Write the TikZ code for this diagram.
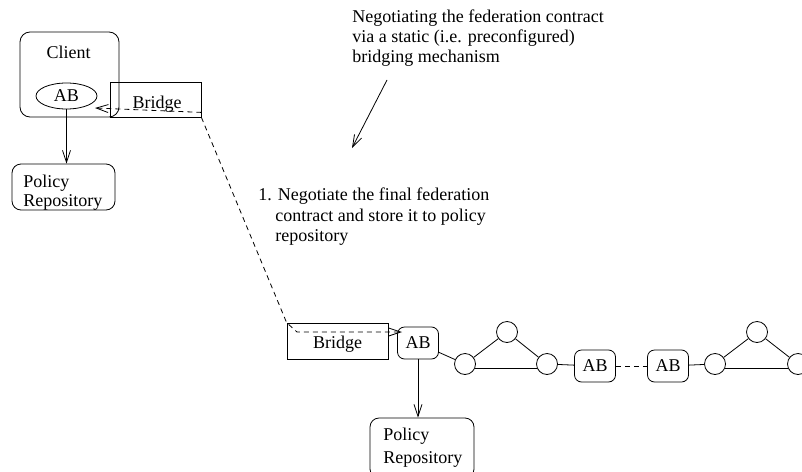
\documentclass[tikz,border=0pt]{standalone}
\usepackage{fontspec}
\setmainfont{Liberation Serif}
\usetikzlibrary{arrows.meta,shapes.geometric}
\begin{document}
\begin{tikzpicture}[x=1pt,y=-1pt,
  every node/.style={font=\fontsize{18}{20}\selectfont},
  every path/.style={line width=0.8pt},
  box/.style={draw, rectangle, inner sep=0pt},
  rbox/.style={box, rounded corners=9pt},
  abbox/.style={box, rounded corners=7pt, minimum width=41pt, minimum height=32pt},
  hub/.style={draw, circle, minimum size=21pt, inner sep=0pt},
  txt/.style={anchor=base west, inner sep=0pt},
  ctxt/.style={anchor=base, inner sep=0pt},
  arr/.style={-{Straight Barb[length=12pt,width=8pt]}},
  dashline/.style={dashed, dash pattern=on 5pt off 4pt}]
\useasboundingbox (0,0) rectangle (802,471);

% --- client side ---
\node[rbox, rounded corners=10pt, minimum width=99pt, minimum height=85pt] (client) at (69.5,74.5) {};
\node[ctxt] (clientlbl) at (68.5,58) {Client};
\node[draw, ellipse, minimum width=61pt, minimum height=26pt, inner sep=0pt] (abA) at (66.5,96) {AB};
\node[box, minimum width=91pt, minimum height=35pt] (bridgeA) at (155.5,99.5) {};
\node[ctxt] (bridgeAlbl) at (157,108) {Bridge};
\node[rbox, minimum width=103pt, minimum height=46pt] (polA) at (63.5,187) {};
\node[txt] (polAa) at (23,187) {Policy};
\node[txt] (polAb) at (23,206) {Repository};
\draw[arr] (abA.south) -- (abA.south |- polA.north);

% --- federation side ---
\node[box, minimum width=101pt, minimum height=36pt] (bridgeB) at (337.5,341) {};
\node[ctxt] (bridgeBlbl) at (337.5,348.3) {Bridge};
\node[abbox] (abB) at (418,343) {AB};
\node[rbox, minimum width=104pt, minimum height=60pt] (polB) at (422,448) {};
\node[txt] (polBa) at (383,440) {Policy};
\node[txt] (polBb) at (383,463) {Repository};
\draw[arr] (abB.south) -- (abB.south |- polB.north);

\node[hub] (c1) at (465,364) {};
\node[hub] (c2) at (507,332) {};
\node[hub] (c3) at (547,364) {};
\node[abbox] (abC) at (595,366) {AB};
\node[abbox] (abD) at (668,366) {AB};
\node[hub] (c4) at (715,364) {};
\node[hub] (c5) at (757,332) {};
\node[hub] (c6) at (798,364) {};

\draw (abB) -- (c1);
\draw (c1) -- (c2) -- (c3);
\draw (c1.-22) -- (c3.-158);
\draw (c3) -- (abC);
\draw[dashline] (abC) -- (abD);
\draw (abD) -- (c4);
\draw (c4) -- (c5) -- (c6);
\draw (c4.-22) -- (c6.-158);

% --- bridging links ---
\coordinate (tipA) at (95,108);
\coordinate (bendB) at (297,332);
\coordinate (tipB) at (402,332);
\draw[dashline, arr] ([yshift=5pt]bridgeA.south east) -- (tipA);
\draw[dashline, arr] (bridgeA.south east) -- (bridgeB.north west) -- (bendB) -- (tipB);

% --- notes ---
\node[txt] (noteAa) at (352,22.7) {Negotiating the federation contract};
\node[txt] (noteAb) at (352,42.3) {via a static (i.e. preconfigured)};
\node[txt] (noteAc) at (352,62) {bridging mechanism};
\coordinate (noteTail) at (387,80);
\coordinate (noteHead) at (352,148);
\draw[arr] (noteTail) -- (noteHead);

\node[txt] (noteBa) at (258,200.7) {1. Negotiate the final federation};
\node[txt] (noteBb) at (275,221.7) {contract and store it to policy};
\node[txt] (noteBc) at (275,241.7) {repository};
\end{tikzpicture}
\end{document}
